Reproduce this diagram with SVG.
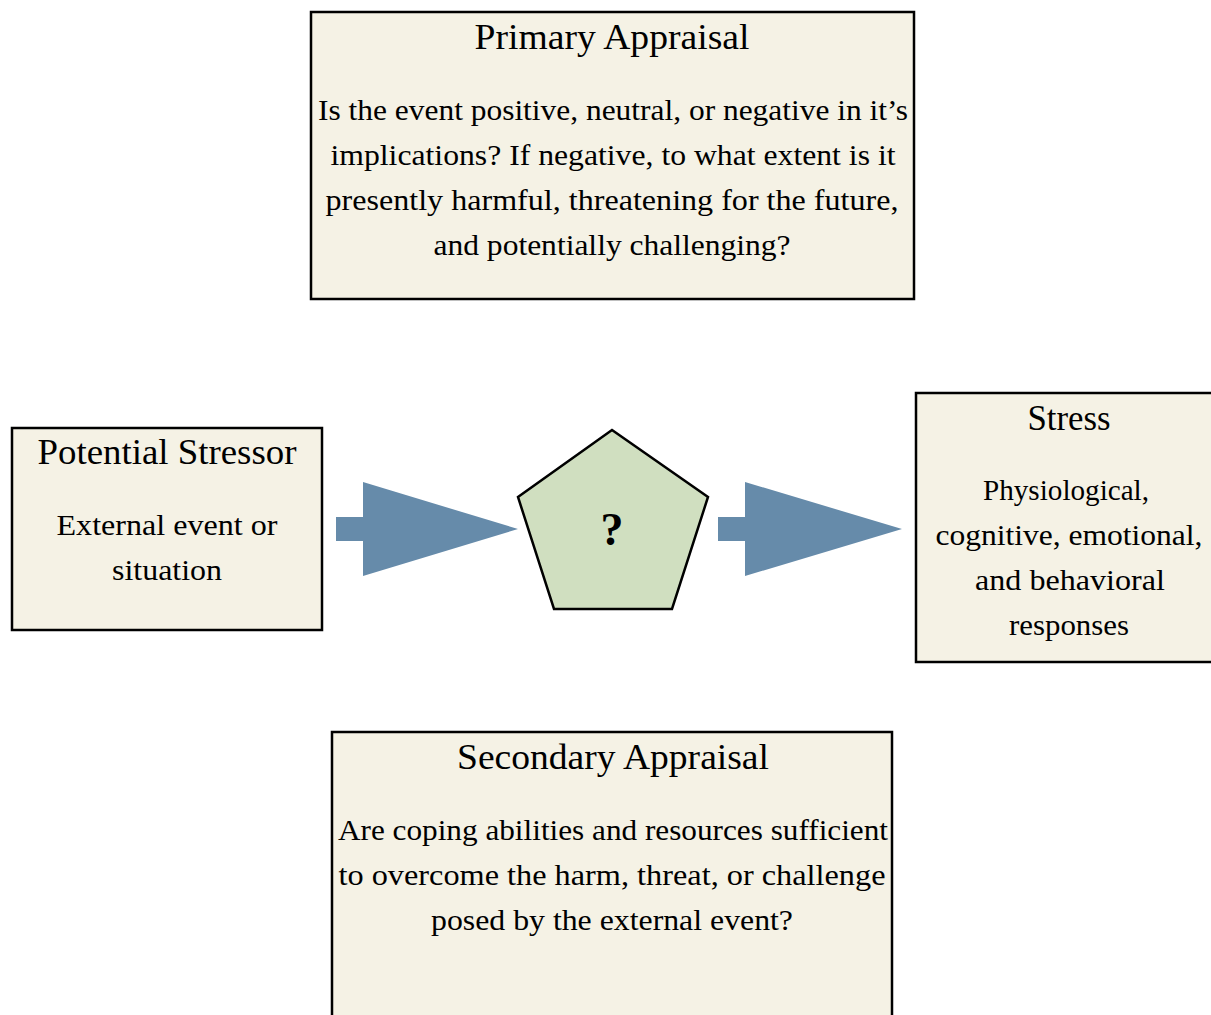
<svg xmlns="http://www.w3.org/2000/svg" width="1211" height="1015" viewBox="0 0 1211 1015">
  <style>
    .box { fill: #f5f2e5; stroke: #000; stroke-width: 2.5; }
    .title { font-family: "Liberation Serif", serif; font-size: 35px; text-anchor: middle; fill: #000; }
    .body { font-family: "Liberation Serif", serif; font-size: 29px; text-anchor: middle; fill: #000; }
    .arrow { fill: #668baa; }
  </style>
  <rect width="1211" height="1015" fill="#fff"/>

  <g id="primary-appraisal">
    <rect class="box" x="311" y="12" width="603" height="287"/>
    <text class="title" x="612" y="49" textLength="275" lengthAdjust="spacingAndGlyphs">Primary Appraisal</text>
    <text class="body" x="613" y="120" textLength="590" lengthAdjust="spacingAndGlyphs">Is the event positive, neutral, or negative in it’s</text>
    <text class="body" x="613" y="165" textLength="565" lengthAdjust="spacingAndGlyphs">implications? If negative, to what extent is it</text>
    <text class="body" x="612" y="210" textLength="573" lengthAdjust="spacingAndGlyphs">presently harmful, threatening for the future,</text>
    <text class="body" x="612" y="255" textLength="357" lengthAdjust="spacingAndGlyphs">and potentially challenging?</text>
  </g>

  <g id="potential-stressor">
    <rect class="box" x="12" y="428" width="310" height="202"/>
    <text class="title" x="167" y="464" textLength="259" lengthAdjust="spacingAndGlyphs">Potential Stressor</text>
    <text class="body" x="167" y="535" textLength="221" lengthAdjust="spacingAndGlyphs">External event or</text>
    <text class="body" x="167" y="580" textLength="110" lengthAdjust="spacingAndGlyphs">situation</text>
  </g>

  <g id="appraisal">
    <polygon points="612,430 708,497 672,609 554,609 518,497" fill="#d0dfc0" stroke="#000" stroke-width="2.5"/>
    <text x="612" y="545" font-family="Liberation Serif, serif" font-size="46" font-weight="bold" text-anchor="middle">?</text>
  </g>

  <g id="stress">
    <rect class="box" x="916" y="393" width="300" height="269"/>
    <text class="title" x="1069" y="430" textLength="83" lengthAdjust="spacingAndGlyphs">Stress</text>
    <text class="body" x="1066" y="500" textLength="166" lengthAdjust="spacingAndGlyphs">Physiological,</text>
    <text class="body" x="1069" y="545" textLength="267" lengthAdjust="spacingAndGlyphs">cognitive, emotional,</text>
    <text class="body" x="1070" y="590" textLength="190" lengthAdjust="spacingAndGlyphs">and behavioral</text>
    <text class="body" x="1069" y="635" textLength="120" lengthAdjust="spacingAndGlyphs">responses</text>
  </g>

  <g id="secondary-appraisal">
    <rect class="box" x="332" y="732" width="560" height="300"/>
    <text class="title" x="613" y="769" textLength="312" lengthAdjust="spacingAndGlyphs">Secondary Appraisal</text>
    <text class="body" x="613" y="840" textLength="550" lengthAdjust="spacingAndGlyphs">Are coping abilities and resources sufficient</text>
    <text class="body" x="612" y="885" textLength="547" lengthAdjust="spacingAndGlyphs">to overcome the harm, threat, or challenge</text>
    <text class="body" x="612" y="930" textLength="362" lengthAdjust="spacingAndGlyphs">posed by the external event?</text>
  </g>

  <g id="connectors">
    <polygon class="arrow" points="336,517 363,517 363,482 518,529 363,576 363,541 336,541"/>
    <polygon class="arrow" points="718,517 745,517 745,482 902,529 745,576 745,541 718,541"/>
  </g>
</svg>
